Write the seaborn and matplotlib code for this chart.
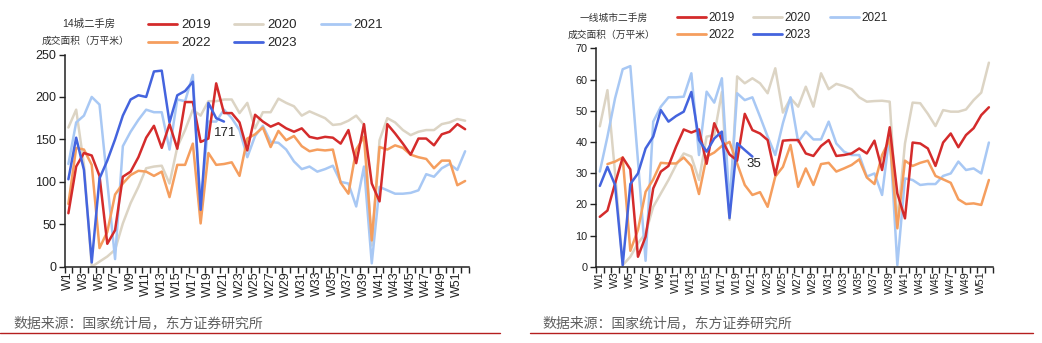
import matplotlib
matplotlib.use("Agg")
import matplotlib.pyplot as plt
import numpy as np
import pandas as pd
import seaborn as sns
from matplotlib.lines import Line2D

# ---------------- data ----------------
weeks = [f"W{i}" for i in range(1, 53)]
years = ["2019", "2020", "2021", "2022", "2023"]

# 14城二手房成交面积（万平米）
l_2019 = [63, 118, 134, 131, 107, 27, 43, 106, 112, 129, 152, 166, 140, 168, 139, 194, 194, 147, 151, 216,
          181, 181, 170, 137, 179, 171, 165, 169, 163, 159, 163, 153, 151, 153, 152, 145, 161, 122, 168, 98,
          77, 168, 157, 145, 132, 151, 151, 143, 156, 159, 168, 162]
l_2020 = [164, 185, 120, 0, 6, 12, 20, 51, 75, 94, 116, 118, 119, 98, 141, 161, 185, 178, 195, 195,
          197, 197, 181, 193, 163, 182, 182, 198, 193, 189, 178, 183, 179, 175, 167, 168, 172, 178, 167, 25,
          149, 175, 170, 161, 155, 159, 161, 161, 168, 170, 174, 172]
l_2021 = [121, 170, 178, 200, 191, 100, 9, 142, 159, 173, 185, 182, 182, 138, 197, 195, 226, 67, 171, 171,
          185, 175, 161, 129, 154, 166, 147, 146, 138, 124, 115, 118, 112, 115, 119, 100, 98, 71, 118, 4,
          94, 90, 86, 86, 87, 90, 109, 106, 116, 121, 114, 136]
l_2022 = [74, 140, 138, 120, 22, 41, 85, 98, 108, 113, 112, 107, 112, 82, 120, 120, 145, 51, 134, 120,
          121, 123, 107, 151, 156, 164, 141, 160, 149, 154, 142, 136, 138, 137, 138, 99, 86, 138, 153, 31,
          141, 138, 143, 140, 132, 129, 127, 116, 125, 125, 96, 101]
l_2023 = [103, 152, 114, 5, 104, 125, 150, 178, 197, 202, 200, 230, 231, 170, 202, 207, 218, 67, 193, 175,
          171]

# 一线城市二手房成交面积（万平米）
r_2019 = [16, 18, 26.7, 35, 31.2, 3.2, 9.6, 25.1, 30.5, 32.3, 38.5, 44, 43, 44, 33, 46, 40.6, 36, 34, 49,
          43.8, 42.7, 40.6, 29.4, 40.4, 40.6, 40.6, 36.3, 35.5, 38.7, 40.6, 35.5, 35.8, 36.3, 37.9, 36.3, 40.4,
          31, 44.7, 23.5, 15.5, 39.8, 39.5, 37.9, 32.3, 39.8, 42.7, 38.3, 42.2, 44.4, 48.6, 51.1]
r_2020 = [45, 56.6, 30, 0.5, 3.2, 7.5, 10.7, 19.2, 23.5, 27.8, 32.6, 36.3, 35.3, 27.8, 41.7, 42.2, 56, 15,
          61, 58.8, 60.4, 58.8, 55.6, 63.6, 49.4, 54, 51.3, 57.7, 51.3, 62, 56.9, 58.6, 57.9, 56.9, 54.3, 52.9,
          53.1, 53.2, 52.9, 14, 39.5, 52.6, 52.4, 49, 45.1, 50.2, 49.7, 49.7, 50.4, 53.4, 55.8, 65.4]
r_2021 = [30.5, 41.7, 54, 63.3, 64.3, 34, 1.9, 46.5, 51.3, 54.3, 54.3, 54.5, 62, 35.8, 56.1, 52.6, 60.4, 20,
          55.6, 53.4, 54.3, 48.1, 41.7, 35.8, 46, 54.3, 40, 43.3, 40.8, 40.8, 46.5, 39.5, 36.9, 35.8, 35.8,
          28.9, 29.9, 23, 42.7, 0.5, 28.3, 27.8, 26.2, 26.5, 26.5, 29.1, 29.9, 33.7, 31, 31.5, 29.9, 39.8]
r_2022 = [None, 32.9, 33.7, 35, 5.1, 11.8, 24, 28, 33.3, 33.1, 33.1, 35, 32.3, 23.3, 35.3, 36.6, 38.7, 40,
          33.1, 26.2, 23, 23.9, 19.2, 28.9, 32, 39, 25.6, 31.5, 26.2, 32.9, 33.3, 30.5, 31.5, 32.6, 34.4, 28.6,
          26.5, 35.8, 40.8, 12.3, 34, 32.3, 33.3, 34, 29.1, 28, 26.9, 21.6, 20.1, 20.3, 19.8, 27.8]
r_2023 = [25.9, 32, 26.2, 0.5, 26.5, 29.9, 37.9, 41.7, 50.2, 46.5, 48.3, 49.7, 56, 40.6, 36.9, 41.1, 43.3,
          15.6, 39.6, 37.4, 35.3]

left_series = dict(zip(years, [l_2019, l_2020, l_2021, l_2022, l_2023]))
right_series = dict(zip(years, [r_2019, r_2020, r_2021, r_2022, r_2023]))

colors = {"2019": "#D42B2B", "2020": "#DCD4C4", "2021": "#A8C8F4",
          "2022": "#F59E5E", "2023": "#4464DE"}
draw_order = ["2020", "2021", "2022", "2019", "2023"]


def long_df(series):
    rows = []
    for yr, vals in series.items():
        for i, v in enumerate(vals):
            if v is None:
                continue
            rows.append((yr, i, weeks[i], v))
    return pd.DataFrame(rows, columns=["year", "pos", "week", "value"])


sns.set_theme(style="white")
plt.rcParams["font.family"] = ["Liberation Sans", "Noto Sans CJK SC", "DejaVu Sans"]

fig = plt.figure(figsize=(10.42, 3.43), dpi=100)
axL = fig.add_axes([64.5 / 1042, 0.2224, 404.5 / 1042, 0.6187])
axR = fig.add_axes([596 / 1042, 0.2224, 396.7 / 1042, 0.6367])


def style_axis(ax, ymax, ystep, xfs, yfs):
    ax.set_xlim(-0.5, 51.5)
    ax.set_ylim(0, ymax)
    ax.set_xticks(range(0, 52, 2))
    ax.set_xticklabels(weeks[::2], rotation=90, fontsize=xfs, color="#222222")
    ax.set_xticks(np.arange(-0.5, 52, 1), minor=True)
    ax.set_yticks(np.arange(0, ymax + 0.1, ystep))
    ax.set_yticklabels([f"{int(v)}" for v in np.arange(0, ymax + 0.1, ystep)], fontsize=yfs, color="#222222")
    ax.tick_params(axis="x", which="major", length=0, pad=3)
    ax.tick_params(axis="x", which="minor", length=4, width=1, color="#222222", direction="out", bottom=True)
    ax.tick_params(axis="y", which="major", length=4, width=1, color="#222222", direction="out", left=True, pad=2)
    for s in ["top", "right"]:
        ax.spines[s].set_visible(False)
    for s in ["left", "bottom"]:
        ax.spines[s].set_color("#222222")
        ax.spines[s].set_linewidth(1.1)
    ax.set_xlabel("")
    ax.set_ylabel("")
    ax.grid(False)


for ax, series in [(axL, left_series), (axR, right_series)]:
    df = long_df(series)
    sns.lineplot(data=df, x="pos", y="value", hue="year", hue_order=draw_order,
                 palette=colors, linewidth=1.8, legend=False, ax=ax, estimator=None, sort=True)

style_axis(axL, 250, 50, 9, 9)
style_axis(axR, 70, 10, 8, 7.8)

# end labels for 2023
axL.annotate(f"{l_2023[-1]:g}", xy=(len(l_2023) - 1, l_2023[-1]), xytext=(1, -11),
             textcoords="offset pixels", ha="center", va="center", fontsize=9.5, color="#222222")
axR.annotate(f"{r_2023[-1]:.0f}", xy=(len(r_2023) - 1, r_2023[-1]), xytext=(1, -7),
             textcoords="offset pixels", ha="center", va="center", fontsize=9.5, color="#222222")

# legends
legend_order = ["2019", "2022", "2020", "2023", "2021"]


def add_legend(ax, x, y, fs, hl, htp, cs):
    handles = [Line2D([0], [0], color=colors[k], lw=2.0) for k in legend_order]
    ax.legend(handles, legend_order, ncol=3, loc="upper left", bbox_to_anchor=(x, y),
              bbox_transform=fig.transFigure, frameon=False, fontsize=fs, handlelength=hl,
              handletextpad=htp, columnspacing=cs, borderpad=0, borderaxespad=0, labelspacing=0.45)


add_legend(axL, 148 / 1042, 1 - 19 / 343, 9.5, 2.2, 0.3, 1.8)
add_legend(axR, 677 / 1042, 1 - 12 / 343, 8.5, 2.45, 0.2, 1.6)

# unit labels
fig.text(89 / 1042, 1 - 24 / 343, "14城二手房", ha="center", va="center", fontsize=7.5, color="#333333")
fig.text(86 / 1042, 1 - 41 / 343, "成交面积（万平米）", ha="center", va="center", fontsize=7, color="#333333")
fig.text(614 / 1042, 1 - 18 / 343, "一线城市二手房", ha="center", va="center", fontsize=7, color="#333333")
fig.text(612 / 1042, 1 - 35 / 343, "成交面积（万平米）", ha="center", va="center", fontsize=7, color="#333333")

# source notes
src = "数据来源：国家统计局，东方证券研究所"
fig.text(13 / 1042, 1 - 323 / 343, src, ha="left", va="center", fontsize=10, color="#606060")
fig.text(542 / 1042, 1 - 323 / 343, src, ha="left", va="center", fontsize=10, color="#606060")

# red separator lines
fig.add_artist(Line2D([0, 500 / 1042], [1 - 333 / 343] * 2, color="#B51F1F", lw=1.0, transform=fig.transFigure))
fig.add_artist(Line2D([530 / 1042, 1033 / 1042], [1 - 333 / 343] * 2, color="#B51F1F", lw=1.0,
                      transform=fig.transFigure))

fig.savefig("out.png", dpi=100, facecolor="white")
